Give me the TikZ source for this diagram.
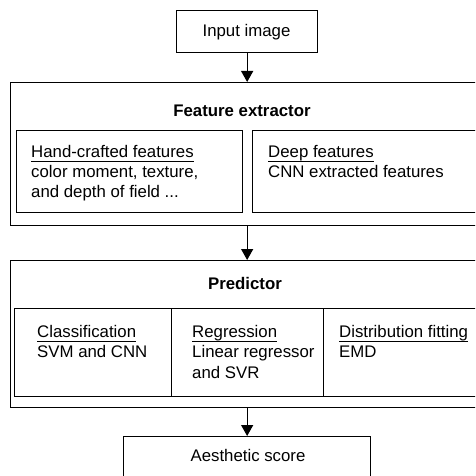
\documentclass[tikz,border=0pt]{standalone}
\usepackage{fontspec}
\setmainfont{Liberation Sans}
\usetikzlibrary{arrows.meta}
\newcommand\ulword[1]{\setbox0\hbox{#1}\rlap{\rule[-5pt]{\wd0}{1.1pt}}\box0}
\tikzset{
  boxst/.style={draw=black, line width=1.3pt, rectangle, inner sep=0pt, anchor=north west},
  txt/.style={inner sep=0pt, anchor=base west, font=\fontsize{16.8}{20.5}\selectfont},
  ttl/.style={inner sep=0pt, anchor=base, font=\fontsize{16.8}{20.5}\selectfont},
  arr/.style={line width=1.3pt, -{Triangle[length=11pt,width=12pt]}}
}
\begin{document}
\begin{tikzpicture}[x=1pt,y=-1pt]
\useasboundingbox (0,0) rectangle (475,476);
\clip (0,0) rectangle (475,476);
\fill[white] (0,0) rectangle (475,476);
% boxes
\node[boxst, minimum width=141pt, minimum height=42pt] (inp) at (176,10) {};
\node[boxst, minimum width=472pt, minimum height=143pt] (fe) at (10,82) {};
\node[boxst, minimum width=226pt, minimum height=82pt] (fel) at (16,130) {};
\node[boxst, minimum width=225pt, minimum height=82pt] (fer) at (252,130) {};
\node[boxst, minimum width=472pt, minimum height=147pt] (pr) at (10,260) {};
\node[boxst, minimum width=157pt, minimum height=88pt] (prc) at (14,308) {};
\node[boxst, minimum width=152pt, minimum height=88pt] (prr) at (171,308) {};
\node[boxst, minimum width=155pt, minimum height=88pt] (prd) at (323,308) {};
\node[boxst, minimum width=247pt, minimum height=60pt] (sc) at (123,436) {};
% arrows
\draw[arr] (inp.south) -- (inp.south |- fe.north);
\draw[arr] (inp.south |- fe.south) -- (inp.south |- pr.north);
\draw[arr] (inp.south |- pr.south) -- (inp.south |- sc.north);
% titles
\node[ttl] (tin) at (246.5,37) {Input image};
\node[ttl] (tfe) at (242,117) {\bfseries Feature extractor};
\node[ttl] (tpr) at (245,289) {\bfseries Predictor};
\node[ttl] (tsc) at (248,461) {Aesthetic score};
% feature extractor contents
\node[txt] (h1) at (31,157) {\ulword{Hand-crafted features}};
\node[txt] (h2) at (31,177) {color moment, texture,};
\node[txt] (h3) at (31,197) {and depth of field ...};
\node[txt] (d1) at (268,157) {\ulword{Deep features}};
\node[txt] (d2) at (268,177) {CNN extracted features};
% predictor contents
\node[txt] (c1) at (37,337) {\ulword{Classification}};
\node[txt] (c2) at (37,357) {SVM and CNN};
\node[txt] (r1) at (192,337) {\ulword{Regression}};
\node[txt] (r2) at (192,357) {Linear regressor};
\node[txt] (r3) at (192,378) {and SVR};
\node[txt] (s1) at (339,337) {\ulword{Distribution fitting}};
\node[txt] (s2) at (339,357) {EMD};
\end{tikzpicture}
\end{document}
